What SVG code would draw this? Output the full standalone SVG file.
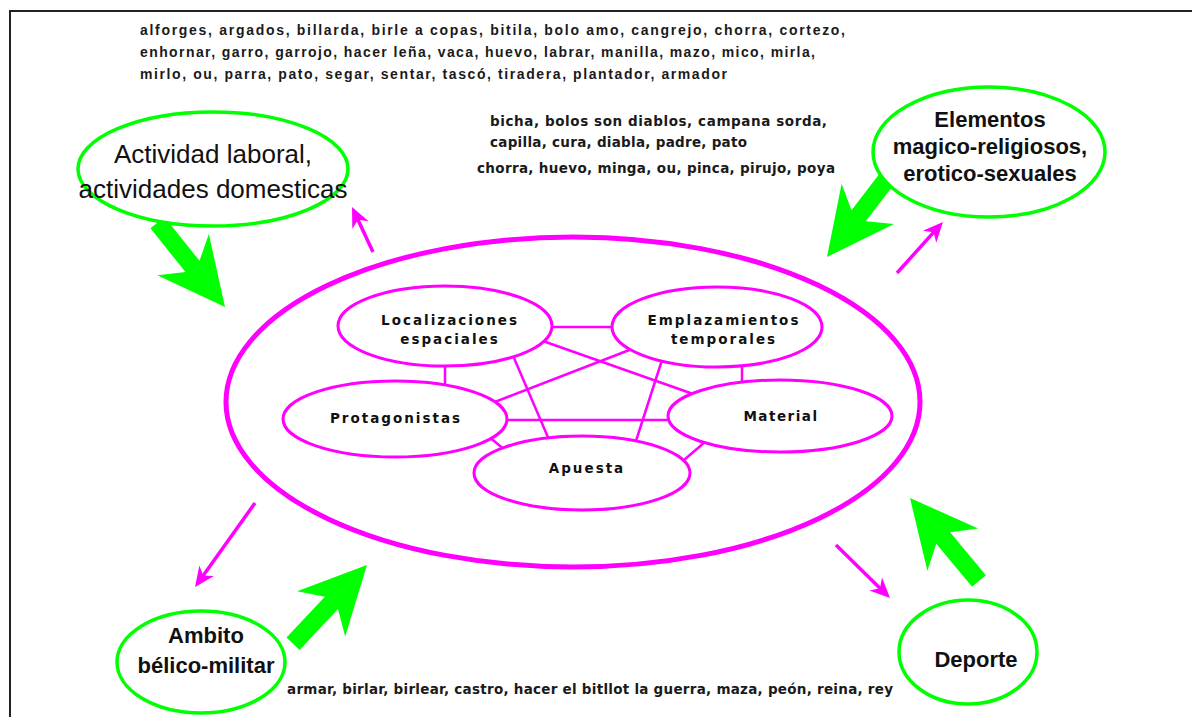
<svg xmlns="http://www.w3.org/2000/svg" xmlns:xlink="http://www.w3.org/1999/xlink" width="1192" height="717" viewBox="0 0 1192 717">
  <style>
    .frame { stroke: #222; stroke-width: 2; fill: none; }
    .big { fill: none; stroke: #ff00ff; stroke-width: 5; }
    .inner { fill: #fff; stroke: #ff00ff; stroke-width: 3; }
    .link { stroke: #ff00ff; stroke-width: 2.5; fill: none; }
    .marrow { stroke: #ff00ff; stroke-width: 3.5; fill: none; marker-end: url(#mhead); }
    .gnode { fill: #fff; stroke: #00ff00; stroke-width: 3.5; }
    .fat { fill: #00ff00; }
    .big-label { font-family: "Liberation Sans", Arial, sans-serif; fill: #111; text-anchor: middle; }
    .inner-label { font-family: "DejaVu Sans", Verdana, sans-serif; font-weight: bold; font-size: 13.5px; fill: #111; text-anchor: middle; }
    .words { font-family: "Liberation Sans", Arial, sans-serif; font-weight: bold; font-size: 14px; fill: #1a1a1a; }
    .words2 { font-family: "DejaVu Sans", Verdana, sans-serif; font-weight: bold; font-size: 13.5px; fill: #1a1a1a; }
  </style>
  <defs>
    <marker id="mhead" markerUnits="userSpaceOnUse" viewBox="-22 -12 24 24" markerWidth="24" markerHeight="24" refX="-8" refY="0" orient="auto">
      <path d="M0,0 L-20,-9 L-14,0 L-20,9 Z" fill="#ff00ff"/>
    </marker>
    <polygon id="fatArrow" points="0,0 -67,-33 -52,-9 -108,-9 -108,9 -52,9 -67,33"/>
  </defs>

  <rect width="1192" height="717" fill="#fff"/>
  <path class="frame" d="M10,717 L10,11 L1192,11"/>

  <!-- word lists -->
  <g id="words-top">
    <text class="words" x="140" y="35" textLength="705" lengthAdjust="spacing">alforges, argados, billarda, birle a copas, bitila, bolo amo, cangrejo, chorra, cortezo,</text>
    <text class="words" x="140" y="57" textLength="675" lengthAdjust="spacing">enhornar, garro, garrojo, hacer leña, vaca, huevo, labrar, manilla, mazo, mico, mirla,</text>
    <text class="words" x="140" y="79" textLength="587" lengthAdjust="spacing">mirlo, ou, parra, pato, segar, sentar, tascó, tiradera, plantador, armador</text>
  </g>
  <g id="words-magic">
    <text class="words2" x="490" y="126" textLength="337" lengthAdjust="spacing">bicha, bolos son diablos, campana sorda,</text>
    <text class="words2" x="490" y="147" textLength="257" lengthAdjust="spacing">capilla, cura, diabla, padre, pato</text>
    <text class="words2" x="477" y="173" textLength="358" lengthAdjust="spacing">chorra, huevo, minga, ou, pinca, pirujo, poya</text>
  </g>
  <g id="words-war">
    <text class="words2" x="287" y="694" textLength="606" lengthAdjust="spacing">armar, birlar, birlear, castro, hacer el bitllot la guerra, maza, peón, reina, rey</text>
  </g>

  <!-- central container -->
  <g id="container">
    <ellipse class="big" cx="573" cy="402" rx="347" ry="165"/>
  </g>

  <!-- connectors -->
  <g id="connectors">
    <!-- inner links -->
    <line class="link" x1="545" y1="327" x2="620" y2="327"/>
    <line class="link" x1="445" y1="360" x2="445" y2="388"/>
    <line class="link" x1="742" y1="360" x2="742" y2="388"/>
    <line class="link" x1="514" y1="358" x2="550" y2="442"/>
    <line class="link" x1="540" y1="340" x2="696" y2="395"/>
    <line class="link" x1="632" y1="349" x2="492" y2="403"/>
    <line class="link" x1="662" y1="360" x2="635" y2="444"/>
    <line class="link" x1="500" y1="420" x2="676" y2="420"/>
    <line class="link" x1="488" y1="436" x2="510" y2="454"/>
    <line class="link" x1="705" y1="442" x2="684" y2="460"/>
    <!-- outward magenta arrows -->
    <line class="marrow" x1="373" y1="252" x2="355.4" y2="214.2"/>
    <line class="marrow" x1="897" y1="273" x2="937.6" y2="227.9"/>
    <line class="marrow" x1="255" y1="503" x2="199.7" y2="580.5"/>
    <line class="marrow" x1="836" y1="545" x2="884.3" y2="592.4"/>
    <!-- inward green arrows -->
    <use xlink:href="#fatArrow" class="fat" transform="translate(225,307) rotate(51.3)"/>
    <use xlink:href="#fatArrow" class="fat" transform="translate(827,257) rotate(127.5)"/>
    <use xlink:href="#fatArrow" class="fat" transform="translate(367,565) rotate(-46.8)"/>
    <use xlink:href="#fatArrow" class="fat" transform="translate(910,498) rotate(-129.7)"/>
  </g>

  <!-- inner nodes -->
  <g id="node-localizaciones">
    <ellipse class="inner" cx="445" cy="326" rx="107" ry="40"/>
    <text class="inner-label" x="450" y="325" letter-spacing="2">Localizaciones</text>
    <text class="inner-label" x="450" y="344" letter-spacing="2">espaciales</text>
  </g>
  <g id="node-emplazamientos">
    <ellipse class="inner" cx="717" cy="327" rx="105" ry="40"/>
    <text class="inner-label" x="724" y="325" letter-spacing="2">Emplazamientos</text>
    <text class="inner-label" x="724" y="344" letter-spacing="2">temporales</text>
  </g>
  <g id="node-protagonistas">
    <ellipse class="inner" cx="395" cy="419" rx="112" ry="38"/>
    <text class="inner-label" x="396" y="423" letter-spacing="2">Protagonistas</text>
  </g>
  <g id="node-material">
    <ellipse class="inner" cx="780" cy="416" rx="112" ry="36"/>
    <text class="inner-label" x="781" y="421" letter-spacing="1.5">Material</text>
  </g>
  <g id="node-apuesta">
    <ellipse class="inner" cx="582" cy="473" rx="108" ry="37"/>
    <text class="inner-label" x="587" y="473" letter-spacing="2">Apuesta</text>
  </g>

  <!-- outer nodes -->
  <g id="node-actividad">
    <ellipse class="gnode" cx="213" cy="169" rx="135" ry="57"/>
    <text class="big-label" x="213" y="163" font-size="26">Actividad laboral,</text>
    <text class="big-label" x="213" y="198" font-size="26">actividades domesticas</text>
  </g>
  <g id="node-elementos">
    <ellipse class="gnode" cx="989" cy="152" rx="116" ry="65"/>
    <text class="big-label" x="990" y="127" font-size="22" font-weight="bold">Elementos</text>
    <text class="big-label" x="990" y="154" font-size="22" font-weight="bold">magico-religiosos,</text>
    <text class="big-label" x="990" y="181" font-size="22" font-weight="bold">erotico-sexuales</text>
  </g>
  <g id="node-ambito">
    <ellipse class="gnode" cx="201" cy="662" rx="84" ry="51"/>
    <text class="big-label" x="206" y="643" font-size="22" font-weight="bold">Ambito</text>
    <text class="big-label" x="206" y="673" font-size="22" font-weight="bold">bélico-militar</text>
  </g>
  <g id="node-deporte">
    <ellipse class="gnode" cx="968" cy="652" rx="69" ry="52"/>
    <text class="big-label" x="976" y="667" font-size="22" font-weight="bold">Deporte</text>
  </g>
</svg>
